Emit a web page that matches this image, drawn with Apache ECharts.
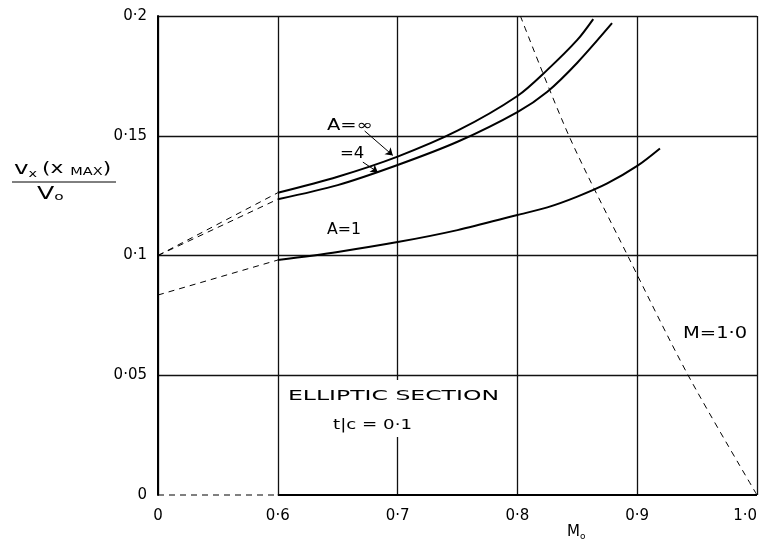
<!DOCTYPE html>
<html><head><meta charset="utf-8">
<script src="https://cdn.jsdelivr.net/npm/echarts@6/dist/echarts.min.js"></script>
<style>html,body{margin:0;padding:0;background:#fff}#c{width:765px;height:555px}</style>
</head><body><div id="c"></div>
<script>
// Tick labels (x axis has a broken scale: 0 then 0.6..1.0 at equal spacing)
const xTickValues = [0, 0.6, 0.7, 0.8, 0.9, 1.0];
const xTickLabels = ['0', '0·6', '0·7', '0·8', '0·9', '1·0'];
const yTickLabels = ['0', '0·05', '0·1', '0·15', '0·2'];

// A = infinity
const ainfM = [0.6, 0.65, 0.7, 0.75, 0.8, 0.825, 0.85, 0.8633];
const ainfV = [0.1262, 0.1329, 0.1413, 0.1521, 0.1666, 0.1775, 0.1900, 0.1987];
// A = 4
const a4M = [0.6, 0.65, 0.7, 0.75, 0.8, 0.825, 0.85, 0.879];
const a4V = [0.1235, 0.1294, 0.1378, 0.1475, 0.1599, 0.1684, 0.1805, 0.197];
// A = 1
const a1M = [0.6, 0.65, 0.7, 0.75, 0.8, 0.825, 0.85, 0.875, 0.9, 0.919];
const a1V = [0.0981, 0.1015, 0.1056, 0.1106, 0.1169, 0.1201, 0.1246, 0.1301, 0.1374, 0.1447];
// dashed extrapolations to M0 = 0
const extM = [0, 0.6];
const ainfExtV = [0.1, 0.1262];
const a4ExtV = [0.1, 0.1235];
const a1ExtV = [0.0835, 0.0981];
// M = 1.0 line
const m1M = [0.8025, 0.843, 0.892, 0.9425, 1.0];
const m1V = [0.2, 0.15, 0.1, 0.05, 0];
// bottom boundary: dashed 0..0.6, solid 0.6..1.0
const baseDashM = [0, 0.6];
const baseSolidM = [0.6, 1.0];

function toPos(M) { return M <= 0.6 ? M / 0.6 : 1 + (M - 0.6) / 0.1; }
function pts(ms, vs) { return ms.map((m, i) => [toPos(m), vs[i]]); }

const FONT = 'DejaVu Sans';
const chart = echarts.init(document.getElementById('c'), null, {renderer: 'canvas'});
const solid = (w) => ({color: '#000', width: w, type: 'solid'});
const dashed = {color: '#000', width: 1, type: [6, 5]};
const txt = (s, size) => ({text: s, font: size + 'px "DejaVu Sans"', fill: '#000'});

const option = {
  animation: false,
  backgroundColor: '#fff',
  grid: {left: 158, right: 8, top: 16, bottom: 60, containLabel: false, outerBoundsMode: 'none'},
  xAxis: {
    type: 'value', min: 0, max: 5, interval: 1,
    axisLine: {show: false}, axisTick: {show: false},
    axisLabel: {margin: 14, color: '#000', fontSize: 15, fontFamily: FONT, alignMaxLabel: 'right',
      formatter: v => xTickLabels[Math.round(v)]},
    splitLine: {show: true, lineStyle: {color: '#111', width: 1.3}}
  },
  yAxis: {
    type: 'value', min: 0, max: 0.2, interval: 0.05,
    axisLine: {show: true, lineStyle: {color: '#000', width: 2}}, axisTick: {show: false},
    axisLabel: {margin: 11, color: '#000', fontSize: 15, fontFamily: FONT,
      formatter: v => yTickLabels[Math.round(v / 0.05)]},
    splitLine: {show: true, showMinLine: false, lineStyle: {color: '#111', width: 1.3}}
  },
  series: [
    {type: 'line', data: pts(ainfM, ainfV), smooth: 0.3, symbol: 'none', lineStyle: solid(2), z: 5,
      markLine: {silent: true, symbol: ['none', 'arrow'], symbolSize: 7, label: {show: false},
        lineStyle: {color: '#000', width: 1, type: 'solid'},
        data: [
          [{coord: [toPos(0.6725), 0.152]}, {coord: [toPos(0.696), 0.1418]}],
          [{coord: [toPos(0.671), 0.139]}, {coord: [toPos(0.6835), 0.1348]}]
        ]}},
    {type: 'line', data: pts(a4M, a4V), smooth: 0.3, symbol: 'none', lineStyle: solid(2), z: 5},
    {type: 'line', data: pts(a1M, a1V), smooth: 0.3, symbol: 'none', lineStyle: solid(2), z: 5},
    {type: 'line', data: pts(extM, ainfExtV), symbol: 'none', lineStyle: dashed, z: 5},
    {type: 'line', data: pts(extM, a4ExtV), symbol: 'none', lineStyle: dashed, z: 5},
    {type: 'line', data: pts(extM, a1ExtV), symbol: 'none', lineStyle: dashed, z: 5},
    {type: 'line', data: pts(m1M, m1V), smooth: 0.3, symbol: 'none', lineStyle: dashed, z: 5},
    {type: 'line', data: baseDashM.map(m => [toPos(m), 0]), symbol: 'none', lineStyle: dashed, clip: false, z: 5},
    {type: 'line', data: baseSolidM.map(m => [toPos(m), 0]), symbol: 'none', lineStyle: solid(2), clip: false, z: 5}
  ],
  graphic: [
    {type: 'rect', z: 3, shape: {x: 284, y: 380, width: 226, height: 57}, style: {fill: '#fff'}},
    {type: 'text', z: 10, x: 288, y: 389, scaleX: 1.68, style: txt('ELLIPTIC SECTION', 14)},
    {type: 'text', z: 10, x: 333, y: 418, scaleX: 1.3, style: txt('t|c = 0·1', 14)},
    {type: 'text', z: 10, x: 327, y: 119, scaleX: 1.3, style: txt('A=∞', 15)},
    {type: 'text', z: 10, x: 340, y: 147, scaleX: 1.1, style: txt('=4', 15)},
    {type: 'text', z: 10, x: 327, y: 223, scaleX: 1.05, style: txt('A=1', 15)},
    {type: 'text', z: 10, x: 683, y: 327, scaleX: 1.3, style: txt('M=1·0', 15)},
    {type: 'text', z: 10, x: 567, y: 523, style: {
      text: '{m|M}{s|o}', rich: {m: {fontSize: 15, fontFamily: FONT, fill: '#000'}, s: {fontSize: 9, fontFamily: FONT, fill: '#000', padding: [9, 0, 0, 0]}}}},
    {type: 'text', z: 10, x: 14, y: 160, scaleX: 1.45, style: {
      text: '{v|v}{s|x} {p|(x }{c|MAX}{p|)}',
      rich: {v: {fontSize: 17, fontFamily: FONT, fill: '#000'}, s: {fontSize: 10, fontFamily: FONT, fill: '#000', padding: [9, 0, 0, 0]},
        p: {fontSize: 15, fontFamily: FONT, fill: '#000'}, c: {fontSize: 10, fontFamily: FONT, fill: '#000', padding: [5, 0, 0, 0]}}}},
    {type: 'line', z: 10, shape: {x1: 12, y1: 182, x2: 116, y2: 182}, style: {stroke: '#000', lineWidth: 1}},
    {type: 'text', z: 10, x: 37, y: 185, scaleX: 1.4, style: {
      text: '{v|V}{s|o}', rich: {v: {fontSize: 18, fontFamily: FONT, fill: '#000'}, s: {fontSize: 11, fontFamily: FONT, fill: '#000', padding: [7, 0, 0, 0]}}}}
  ]
};
chart.setOption(option);
</script>
</body></html>
